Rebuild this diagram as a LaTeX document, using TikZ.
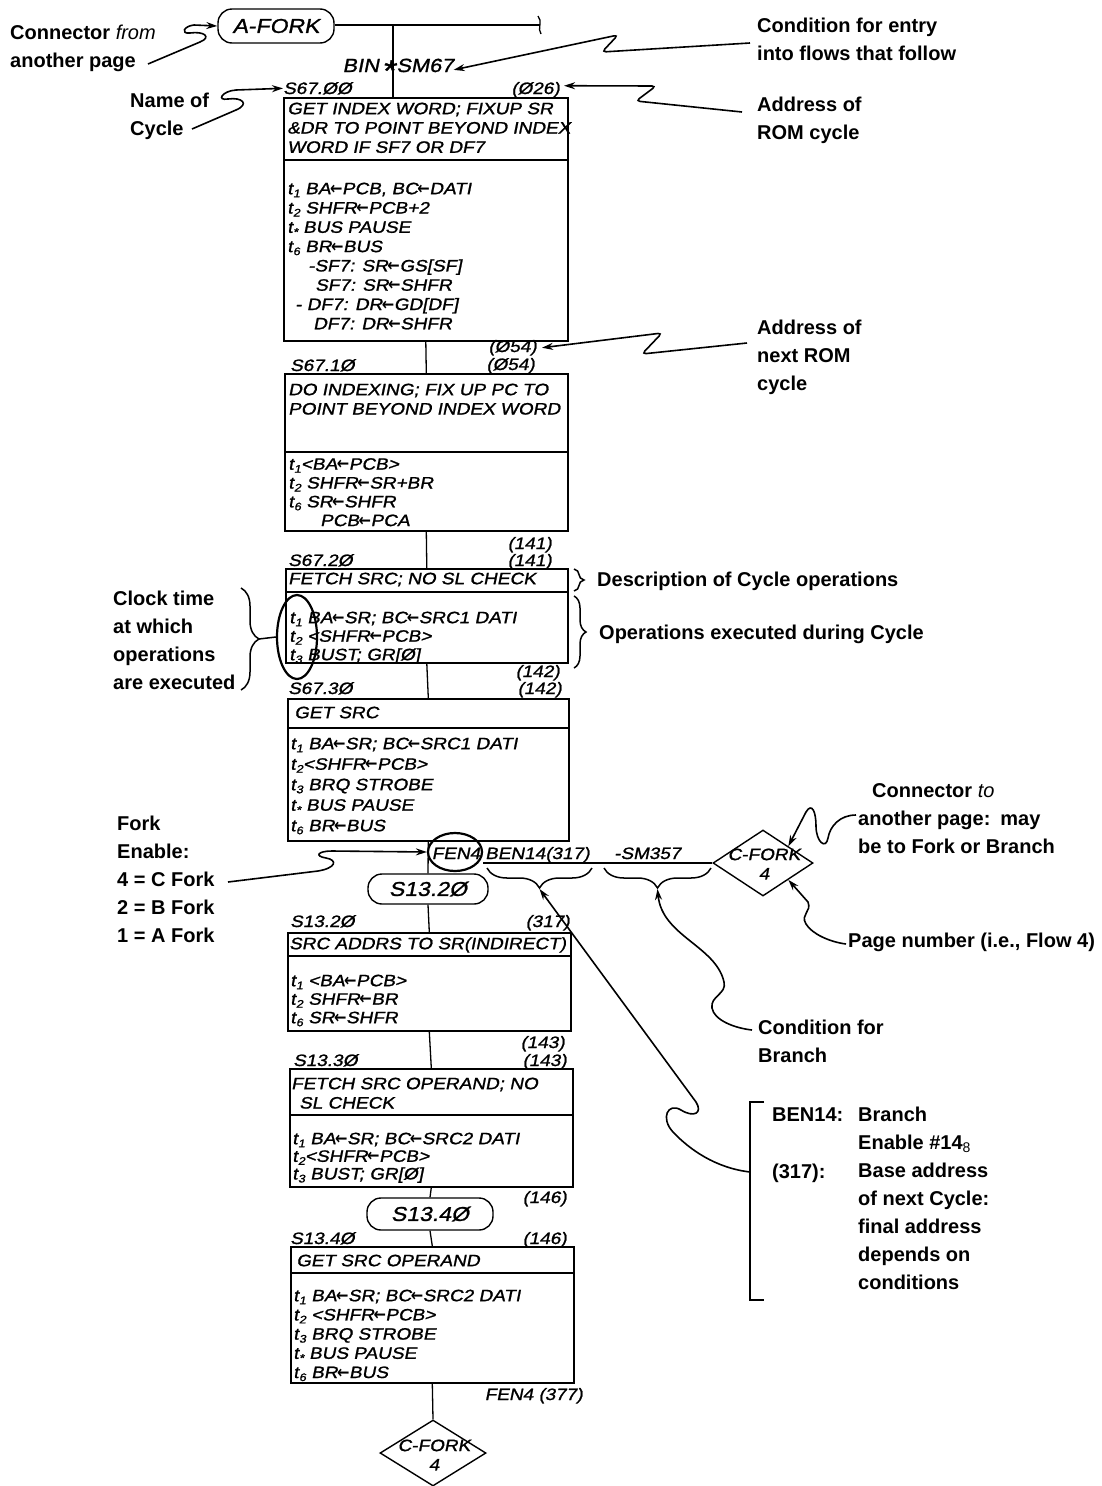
\documentclass[tikz,border=0pt]{standalone}
\usepackage{fontspec}
\usepackage{graphicx}
\setmainfont{Liberation Sans}
\newfontfamily\hand[FakeSlant=0.2,FakeStretch=1.15,FakeBold=1.2]{Liberation Sans}
\newfontfamily\arrf{DejaVu Sans}
\usetikzlibrary{arrows.meta,decorations.pathreplacing,shapes.geometric,calc}
\newcommand\tsb[1]{t\kern0.5pt\raisebox{-3pt}{\fontsize{11}{11}\selectfont #1}}
\newcommand\arr{{\arrf\bfseries\kern-0.5pt\scalebox{0.9}[1.05]{←}\kern-0.5pt}}
\newcommand\divline[2]{\draw[line width=1.6pt] ($(#1.north west)+(0,#2)$) -- ($(#1.north east)+(0,#2)$);}
\begin{document}
\begin{tikzpicture}[x=1pt,y=-1pt,
  hwf/.style={font=\hand\fontsize{16.5}{19.3}\selectfont},
  hw/.style={hwf, inner sep=0pt, align=left, anchor=north west},
  hwl/.style={hwf, inner sep=0pt, anchor=base west},
  hwr/.style={hwf, inner sep=0pt, anchor=base east},
  hwc/.style={hwf, inner sep=0pt, anchor=base},
  lbl/.style={font=\bfseries\fontsize{20}{28}\selectfont, inner sep=0pt, align=left, anchor=north west},
  cyc/.style={draw, line width=1.6pt, inner sep=0pt, anchor=north west},
  flow/.style={line width=1.3pt},
  call/.style={line width=1.6pt, -{Stealth[length=11pt,width=7pt]}},
  zig/.style={call, rounded corners=4pt},
  term/.style={draw, line width=1.4pt, rounded corners=14pt, font=\hand\fontsize{20}{22}\selectfont, inner sep=0pt},
  brc/.style={line width=1.5pt, decorate, decoration={brace, amplitude=#1}},
  ring/.style={draw, ellipse, line width=2.2pt, inner sep=0pt},
  dia/.style={draw, diamond, line width=1.4pt, inner sep=0pt, minimum width=100pt, minimum height=66pt}
]
\useasboundingbox (0,0) rectangle (1102,1486);
\fill[white] (0,0) rectangle (1102,1486);

% ---------- top connector ----------
\node[term, minimum width=116pt, minimum height=34pt] (afork) at (276,26) {A-FORK};
\coordinate (tick) at (540,25);
\draw[flow] (afork.east |- tick) -- (tick);
\draw[line width=1.3pt] (538,16) .. controls (543,21) and (537,29) .. (541,34);
\coordinate (j0) at (393,25);
\node[hwc, font=\hand\fontsize{19}{20}\selectfont] (bin) at (398,72) {BIN\kern2pt{\fontsize{30}{30}\selectfont\raisebox{-9pt}{*}}\kern2pt SM67};

% ---------- cycle boxes ----------
\node[cyc, minimum width=284pt, minimum height=243pt] (c1) at (283,97) {};
\divline{c1}{63}
\node[cyc, minimum width=283pt, minimum height=157pt] (c2) at (284,373) {};
\divline{c2}{79}
\node[cyc, minimum width=282pt, minimum height=94pt] (c3) at (285,568) {};
\divline{c3}{24}
\node[cyc, minimum width=281pt, minimum height=142pt] (c4) at (287,698) {};
\divline{c4}{30}
\node[cyc, minimum width=283pt, minimum height=98pt] (c5) at (287,932) {};
\divline{c5}{24}
\node[cyc, minimum width=283pt, minimum height=118pt] (c6) at (289,1068) {};
\divline{c6}{47}
\node[cyc, minimum width=283pt, minimum height=136pt] (c7) at (290,1246) {};
\divline{c7}{27}

\node[term, minimum width=120pt, minimum height=30pt] (s132) at (428,889) {S13.2Ø};
\node[term, minimum width=126pt, minimum height=32pt] (s134) at (430,1214) {S13.4Ø};
\node[dia] (cf) at (763,863) {};
\node[hwf, align=center, inner sep=0pt] (cft) at (764,864) {C-FORK\\4};
\node[dia, minimum width=106pt] (cf2) at (433,1453) {};
\node[hwf, align=center, inner sep=0pt] (cf2t) at (434,1455) {C-FORK\\4};

% ---------- flow lines ----------
\draw[flow] (j0) -- (j0 |- c1.north);
\draw[flow] (c1.south) -- (c2.north);
\draw[flow] (c2.south) -- (c3.north);
\draw[flow] (c3.south) -- (c4.north);
\draw[flow] (c4.south) -- (s132.north);
\draw[flow] (s132.south) -- (c5.north);
\draw[flow] (c5.south) -- (c6.north);
\draw[flow] (c6.south) -- (s134.north);
\draw[flow] (s134.south) -- (c7.north);
\draw[flow] (c7.south) -- (cf2.north);

% ---------- box texts ----------
\node[hw] (t1a) at (287,101) {\rule{0pt}{13pt}GET INDEX WORD; FIXUP SR\\\&DR TO POINT BEYOND INDEX\\WORD IF SF7 OR DF7};
\node[hw] (t1b) at (287,181) {\rule{0pt}{13pt}\tsb{1} BA\arr PCB, BC\arr DATI\\\tsb{2} SHFR\arr PCB+2\\\tsb{*} BUS PAUSE\\\tsb{6} BR\arr BUS\\\hspace*{21pt}-SF7: SR\arr GS[SF]\\\hspace*{28pt}SF7: SR\arr SHFR\\\hspace*{8pt}- DF7: DR\arr GD[DF]\\\hspace*{26pt}DF7: DR\arr SHFR};

\node[hw] (t2a) at (288,382) {\rule{0pt}{13pt}DO INDEXING; FIX UP PC TO\\POINT BEYOND INDEX WORD};
\node[hw, font=\hand\fontsize{16.5}{18.8}\selectfont] (t2b) at (288,456.5) {\rule{0pt}{13pt}\tsb{1}<BA\arr PCB>\\\tsb{2} SHFR\arr SR+BR\\\tsb{6} SR\arr SHFR\\\hspace*{32pt}PCB\arr PCA};

\node[hw] (t3a) at (288,571) {\rule{0pt}{13pt}FETCH SRC; NO SL CHECK};
\node[hw, font=\hand\fontsize{16.5}{18.5}\selectfont] (t3b) at (289,610) {\rule{0pt}{13pt}\tsb{1} BA\arr SR; BC\arr SRC1 DATI\\\tsb{2} <SHFR\arr PCB>\\\tsb{3} BUST; GR[Ø]};

\node[hw] (t4a) at (294,705) {\rule{0pt}{13pt}GET SRC};
\node[hw, font=\hand\fontsize{16.5}{20.5}\selectfont] (t4b) at (290,736) {\rule{0pt}{13pt}\tsb{1} BA\arr SR; BC\arr SRC1 DATI\\\tsb{2}<SHFR\arr PCB>\\\tsb{3} BRQ STROBE\\\tsb{*} BUS PAUSE\\\tsb{6} BR\arr BUS};

\node[hw] (t5a) at (289,936) {\rule{0pt}{13pt}SRC ADDRS TO SR(INDIRECT)};
\node[hw, font=\hand\fontsize{16.5}{18.5}\selectfont] (t5b) at (290,973) {\rule{0pt}{13pt}\tsb{1} <BA\arr PCB>\\\tsb{2} SHFR\arr BR\\\tsb{6} SR\arr SHFR};

\node[hw] (t6a) at (291,1076) {\rule{0pt}{13pt}FETCH SRC OPERAND; NO\\\hspace*{8pt}SL CHECK};
\node[hw, font=\hand\fontsize{16.5}{17.6}\selectfont] (t6b) at (292,1131) {\rule{0pt}{13pt}\tsb{1} BA\arr SR; BC\arr SRC2 DATI\\\tsb{2}<SHFR\arr PCB>\\\tsb{3} BUST; GR[Ø]};

\node[hw] (t7a) at (296,1253) {\rule{0pt}{13pt}GET SRC OPERAND};
\node[hw, font=\hand\fontsize{16.5}{19.2}\selectfont] (t7b) at (293,1288) {\rule{0pt}{13pt}\tsb{1} BA\arr SR; BC\arr SRC2 DATI\\\tsb{2} <SHFR\arr PCB>\\\tsb{3} BRQ STROBE\\\tsb{*} BUS PAUSE\\\tsb{6} BR\arr BUS};

% ---------- cycle names / addresses ----------
\node[hwl] (n1) at (283,94) {S67.ØØ};
\node[hwr] (a1) at (560,94) {(Ø26)};
\node[hwr] (a54a) at (537,352) {(Ø54)};
\node[hwr] (a54b) at (535,370) {(Ø54)};
\node[hwl] (n2) at (290,371) {S67.1Ø};
\node[hwr] (a141a) at (552,549) {(141)};
\node[hwr] (a141b) at (552,566) {(141)};
\node[hwl] (n3) at (288,566) {S67.2Ø};
\node[hwr] (a142a) at (560,677) {(142)};
\node[hwr] (a142b) at (562,694) {(142)};
\node[hwl] (n4) at (288,694) {S67.3Ø};
\node[hwl] (n5) at (290,927) {S13.2Ø};
\node[hwr] (a317) at (570,927) {(317)};
\node[hwr] (a143a) at (565,1048) {(143)};
\node[hwr] (a143b) at (567,1066) {(143)};
\node[hwl] (n6) at (293,1066) {S13.3Ø};
\node[hwr] (a146a) at (567,1203) {(146)};
\node[hwl] (n7) at (290,1244) {S13.4Ø};
\node[hwr] (a146b) at (567,1244) {(146)};
\node[hwr] (fen377) at (583,1400) {FEN4 (377)};

% ---------- fork / branch line ----------
\node[ring, minimum width=54pt, minimum height=38pt] (fenring) at (455,852) {};
\node[hwc] (fen) at (456,859) {FEN4};
\draw[flow] (fenring.east |- cf.west) -- (cf.west);
\node[hwl] (ben) at (485,859) {BEN14(317)};
\node[hwl] (sm) at (614,859) {-SM357};
\draw[brc=20pt] (592,868) -- (487,868);
\draw[brc=20pt] (711,868) -- (604,868);
\coordinate (b1tip) at (539.5,889);
\coordinate (b2tip) at (657.5,889);

% ---------- clock-time marking ----------
\node[ring, minimum width=40pt, minimum height=84pt] (clk) at (297,637) {};
\draw[brc=18pt] (241,588) -- (241,690);
\coordinate (ctip) at (259,639);
\draw[line width=1.5pt] (ctip) -- (clk.west);
\draw[brc=10pt] (574,569) -- (574,591);
\draw[brc=12pt] (574,596) -- (574,668);

% ---------- explanatory labels ----------
\node[lbl] (lconn1) at (10,24) {\rule{0pt}{15pt}Connector \textmd{\textit{from}}\\another page};
\node[lbl] (lname) at (130,92) {\rule{0pt}{15pt}Name of\\Cycle};
\node[lbl] (lcond) at (757,17) {\rule{0pt}{15pt}Condition for entry\\into flows that follow};
\node[lbl] (laddr1) at (757,96) {\rule{0pt}{15pt}Address of\\ROM cycle};
\node[lbl] (laddr2) at (757,319) {\rule{0pt}{15pt}Address of\\next ROM\\cycle};
\node[lbl] (ldesc) at (597,571) {\rule{0pt}{15pt}Description of Cycle operations};
\node[lbl] (lops) at (599,624) {\rule{0pt}{15pt}Operations executed during Cycle};
\node[lbl] (lclock) at (113,590) {\rule{0pt}{15pt}Clock time\\at which\\operations\\are executed};
\node[lbl] (lcto) at (872,782) {\rule{0pt}{15pt}Connector \textmd{\textit{to}}};
\node[lbl] (lcto2) at (858,810) {\rule{0pt}{15pt}another page:\hspace{10pt}may\\be to Fork or Branch};
\node[lbl] (lfork) at (117,815) {\rule{0pt}{15pt}Fork\\Enable:\\4 = C Fork\\2 = B Fork\\1 = A Fork};
\node[lbl] (lpage) at (848,932) {\rule{0pt}{15pt}Page number (i.e., Flow 4)};
\node[lbl] (lcbr) at (758,1019) {\rule{0pt}{15pt}Condition for\\Branch};
\node[lbl] (lben1) at (772,1106) {\rule{0pt}{15pt}BEN14:};
\node[lbl] (lben2) at (772,1163) {\rule{0pt}{15pt}(317):};
\node[lbl] (lbenr) at (858,1106) {\rule{0pt}{15pt}Branch\\Enable \#14\textsubscript{\textmd{8}}\\Base address\\of next Cycle:\\final address\\depends on\\conditions};
\draw[line width=2pt] (764,1102) -- (750,1102) -- (750,1300) -- (764,1300);

% ---------- callout arrows ----------
\draw[call] (148,64) -- (200,42) .. controls (212,37) and (204,31) .. (190,33) .. controls (180,34) and (184,26) .. (194,25) -- (afork.west);
\draw[call] (192,129) -- (236,110) .. controls (250,104) and (242,97) .. (228,99) .. controls (216,101) and (222,91) .. (236,90) -- (n1.west);
\draw[zig] (750,43) -- (602,52) -- (618,35) -- (bin.east);
\draw[zig] (742,112) -- (636,101) -- (656,86) -- ($(a1.east)+(4,-4)$);
\draw[zig] (747,343) -- (642,354) -- (662,333) -- ($(a54a.east)+(5,0)$);
\draw[call] (228,882) -- (318,871) .. controls (336,868) and (338,860) .. (326,858) .. controls (314,856) and (318,851) .. (332,851) -- (fenring.west);
\draw[call] (856,815) .. controls (840,815) and (830,826) .. (828,838) .. controls (826,850) and (816,842) .. (816,826) .. controls (816,812) and (812,802) .. (806,812) -- (cf.north east);
\draw[call] (846,944) .. controls (830,942) and (812,934) .. (806,924) .. controls (800,914) and (812,912) .. (808,902) -- (cf.south east);
\draw[call] (752,1030) .. controls (734,1028) and (714,1020) .. (712,1008) .. controls (710,996) and (727,994) .. (724,982) .. controls (716,946) and (662,936) .. (b2tip);
\draw[call] (750,1172) .. controls (716,1168) and (690,1150) .. (673,1132) .. controls (660,1118) and (668,1102) .. (681,1110) .. controls (694,1118) and (703,1113) .. (696,1102) -- (b1tip);
\end{tikzpicture}
\end{document}
